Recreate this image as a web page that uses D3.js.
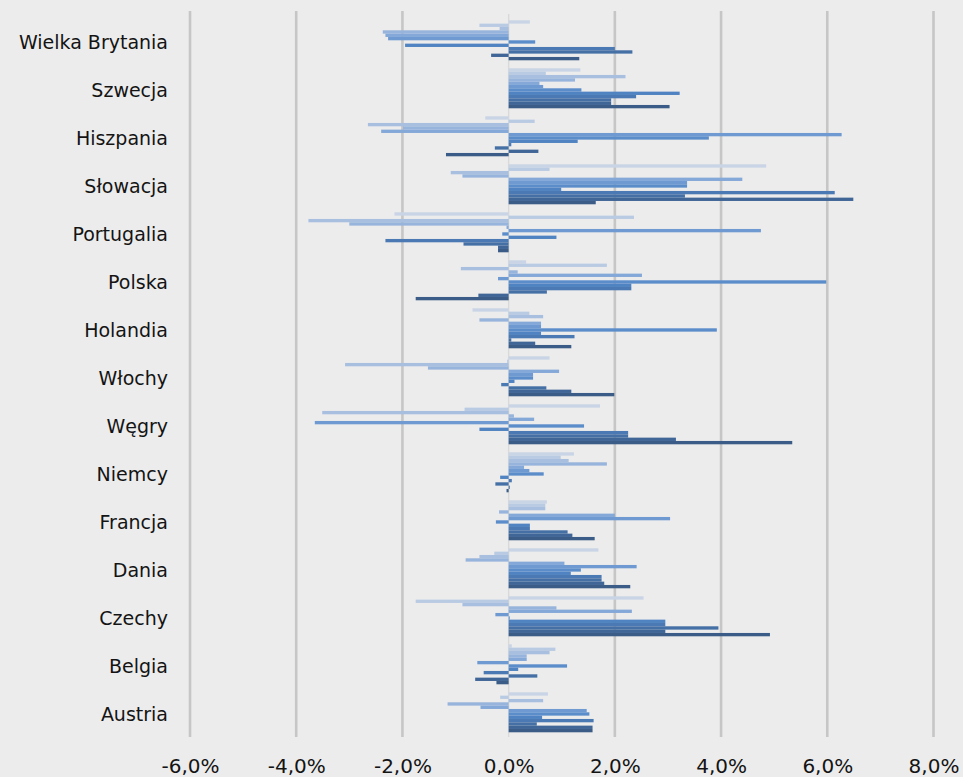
<!DOCTYPE html>
<html>
<head>
<meta charset="utf-8">
<script src="https://cdn.jsdelivr.net/npm/d3@7"></script>
<style>
  html, body { margin: 0; padding: 0; background: #ececec; }
  svg { display: block; }
  text { font-family: "DejaVu Sans", Verdana, sans-serif; fill: #141414; }
</style>
</head>
<body>
<svg id="chart" width="963" height="777"></svg>
<script>
// Countries, top to bottom
const countries = [
  "Wielka Brytania", "Szwecja", "Hiszpania", "Słowacja", "Portugalia",
  "Polska", "Holandia", "Włochy", "Węgry", "Niemcy",
  "Francja", "Dania", "Czechy", "Belgia", "Austria"
];

// Twelve annual changes (%) per country, first series on top
const wielkaBrytania = [0.4, -0.55, -0.17, -2.37, -2.32, -2.27, 0.5, -1.95, 2.0, 2.33, -0.33, 1.33];
const szwecja        = [1.35, 0.7, 2.2, 1.25, 0.58, 0.65, 1.37, 3.22, 2.4, 1.93, 1.93, 3.03];
const hiszpania      = [-0.44, 0.49, -2.65, -1.99, -2.4, 6.27, 3.77, 1.3, 0.05, -0.26, 0.56, -1.18];
const slowacja       = [4.85, 0.77, -1.09, -0.87, 4.4, 3.36, 3.36, 0.99, 6.14, 3.32, 6.49, 1.64];
const portugalia     = [-2.15, 2.36, -3.77, -3.0, -0.04, 4.75, -0.12, 0.9, -2.32, -0.85, -0.2, -0.2];
const polska         = [0.33, 1.85, -0.9, 0.17, 2.51, -0.2, 5.98, 2.31, 2.31, 0.72, -0.57, -1.75];
const holandia       = [-0.68, 0.39, 0.65, -0.55, 0.61, 0.61, 3.92, 0.61, 1.24, 0.05, 0.5, 1.18];
const wlochy         = [0.77, -0.03, -3.08, -1.52, 0.95, 0.46, 0.46, 0.11, -0.14, 0.71, 1.18, 1.99];
const wegry          = [1.72, -0.83, -3.51, 0.1, 0.48, -3.65, 1.42, -0.55, 2.25, 2.25, 3.15, 5.34];
const niemcy         = [1.23, 0.98, 1.13, 1.85, 0.29, 0.39, 0.66, -0.16, 0.06, -0.25, 0.02, -0.04];
const francja        = [0.72, 0.69, 0.69, -0.18, 2.0, 3.04, -0.24, 0.4, 0.4, 1.11, 1.2, 1.62];
const dania          = [1.69, -0.27, -0.55, -0.81, 1.05, 2.41, 1.36, 1.17, 1.75, 1.75, 1.8, 2.29];
const czechy         = [2.54, -1.75, -0.87, 0.9, 2.32, -0.25, 0.02, 2.95, 2.95, 3.95, 2.95, 4.92];
const belgia         = [0.06, 0.88, 0.77, 0.34, 0.34, -0.59, 1.1, 0.18, -0.47, 0.54, -0.63, -0.23];
const austria        = [0.74, -0.16, 0.65, -1.15, -0.53, 1.47, 1.52, 0.63, 1.6, 0.53, 1.58, 1.58];

const seriesValues = [
  wielkaBrytania, szwecja, hiszpania, slowacja, portugalia,
  polska, holandia, wlochy, wegry, niemcy,
  francja, dania, czechy, belgia, austria
];

// x-axis tick values (%)
const tickValues = [-6, -4, -2, 0, 2, 4, 6, 8];

// Series colours, light to dark
const palette = [
  "#c9d5e6", "#b9cbe3", "#a8bfdf", "#97b4dc", "#84a8d8", "#6e9ad1",
  "#5a8dca", "#4f83c1", "#4a79b3", "#4570a5", "#3f6696", "#3a5c86"
];

const rows = countries.map((c, k) => ({ country: c, values: seriesValues[k] }));

const svg = d3.select("#chart");

const x = d3.scaleLinear().domain([-6, 8]).range([190, 933.5]);

const y = d3.scaleBand()
  .domain(countries)
  .range([16.3, 736.3])
  .paddingInner(8 / 48)
  .paddingOuter(4 / 48);

const ySeries = d3.scaleBand()
  .domain(d3.range(palette.length))
  .range([0, y.bandwidth()]);

// vertical gridlines
svg.append("g").selectAll("line")
  .data(tickValues)
  .join("line")
  .attr("x1", d => x(d)).attr("x2", d => x(d))
  .attr("y1", d => d === 0 ? 14 : 11)
  .attr("y2", 737)
  .attr("stroke", d => d === 0 ? "#d9d9d9" : "#c6c6c6")
  .attr("stroke-width", d => d === 0 ? 1.4 : 2.6);

// bars
const groups = svg.append("g").selectAll("g")
  .data(rows)
  .join("g")
  .attr("transform", d => `translate(0,${y(d.country)})`);

groups.selectAll("rect")
  .data(d => d.values.map((v, i) => ({ v, i })))
  .join("rect")
  .attr("x", d => x(Math.min(0, d.v)))
  .attr("width", d => Math.abs(x(d.v) - x(0)))
  .attr("y", d => ySeries(d.i))
  .attr("height", ySeries.bandwidth())
  .attr("fill", d => palette[d.i]);

// category labels
svg.append("g").selectAll("text")
  .data(countries)
  .join("text")
  .attr("x", 168)
  .attr("y", d => y(d) + y.bandwidth() / 2 + 1.5)
  .attr("text-anchor", "end")
  .attr("dominant-baseline", "central")
  .style("font-size", "19px")
  .text(d => d);

// x axis
const locale = d3.formatLocale({ decimal: ",", thousands: " ", grouping: [3], currency: ["", ""], minus: "-" });
const fmt = locale.format(".1f");

const xAxis = d3.axisBottom(x)
  .tickValues(tickValues)
  .tickSize(0)
  .tickPadding(0)
  .tickFormat(d => fmt(d) + "%");

const gx = svg.append("g")
  .attr("transform", "translate(0,759)")
  .call(xAxis);
gx.select(".domain").remove();
gx.selectAll("text")
  .style("font-size", "20px")
  .style("font-family", "\"DejaVu Sans\", Verdana, sans-serif")
  .attr("fill", "#141414");
</script>
</body>
</html>
